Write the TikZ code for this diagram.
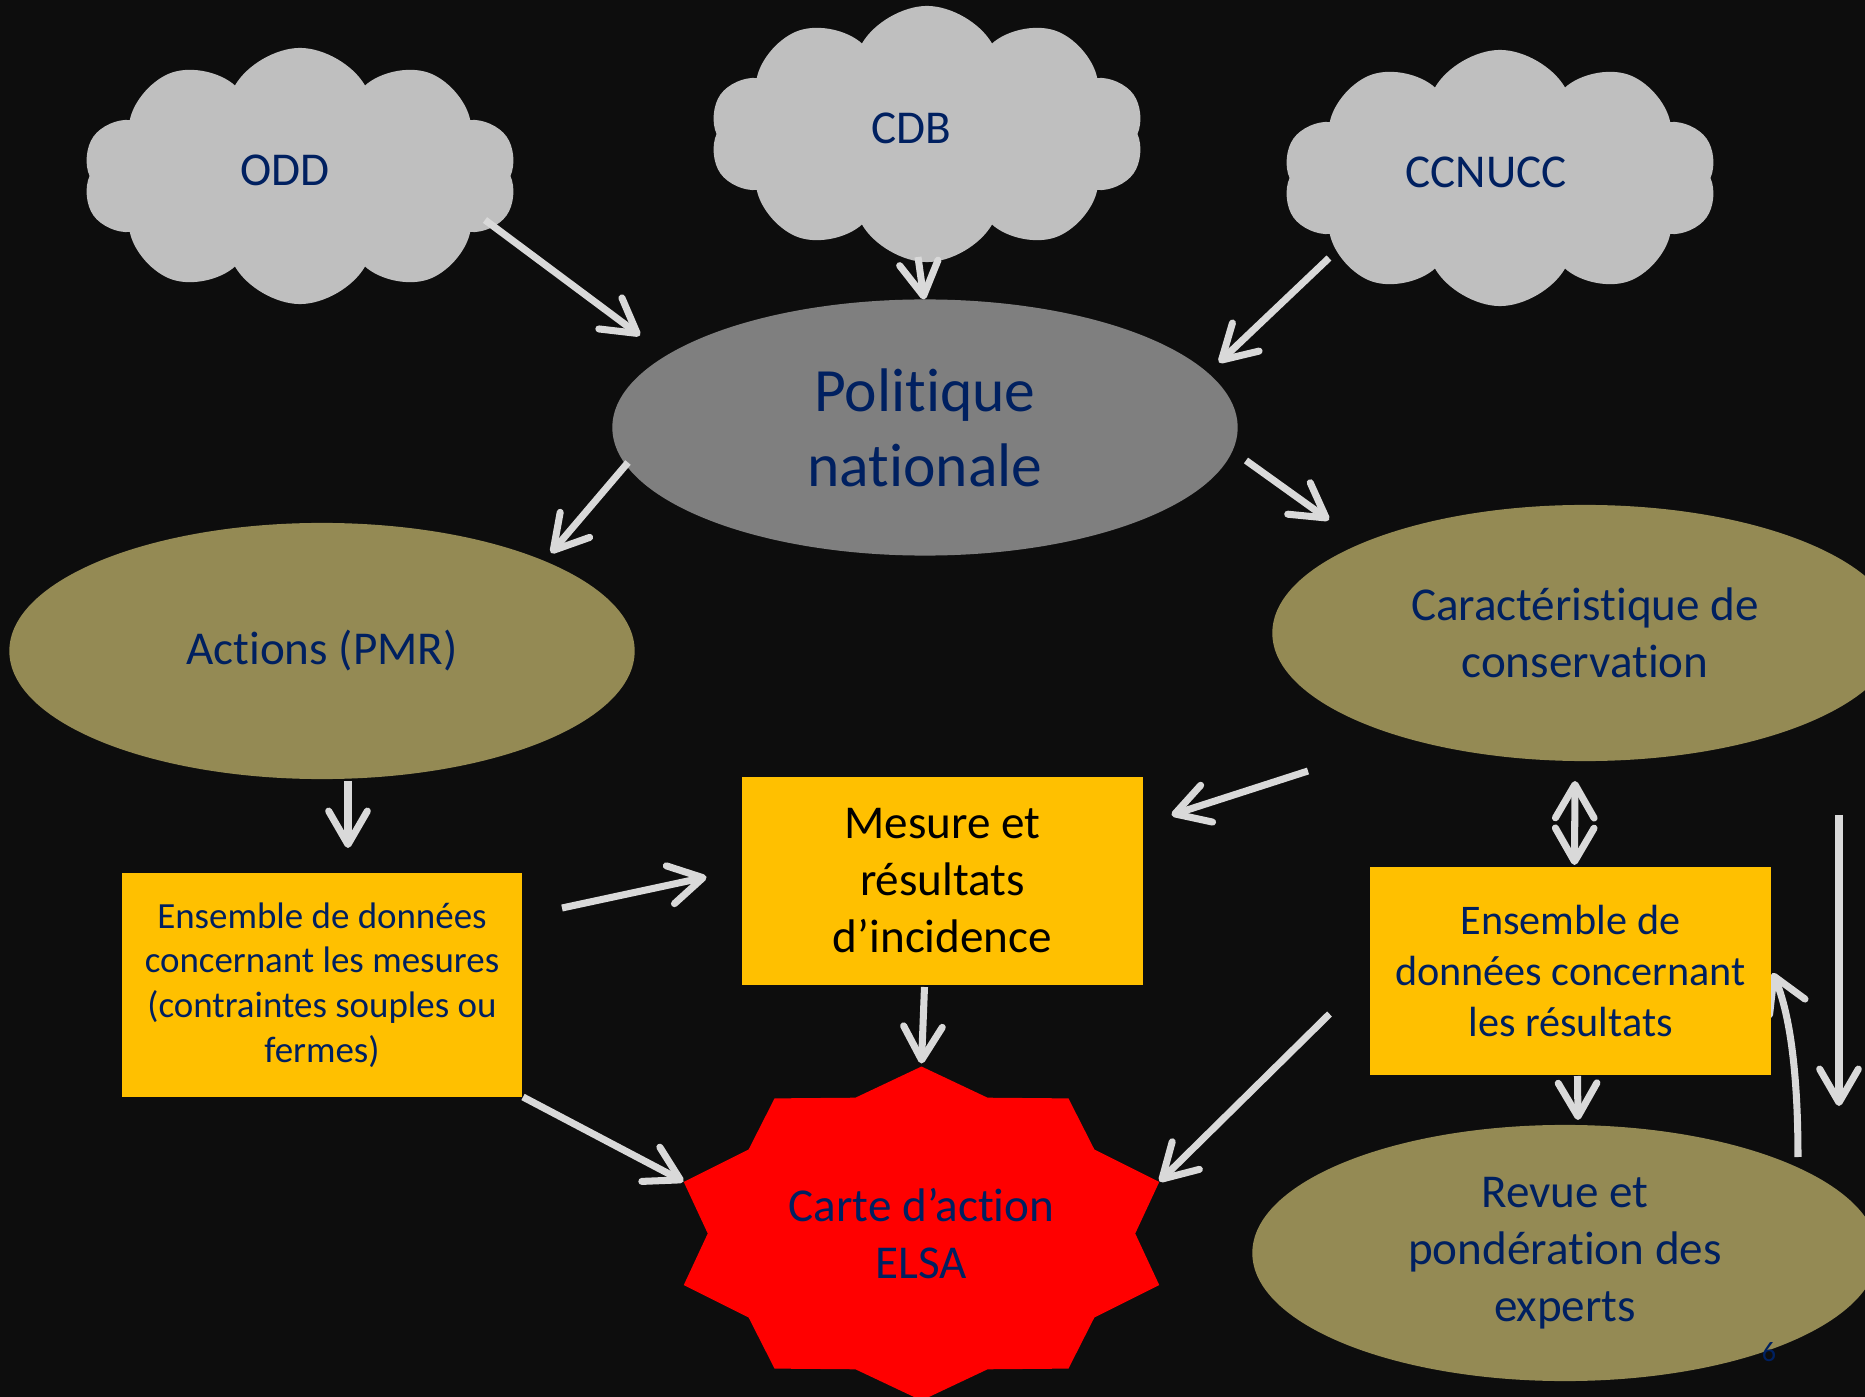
\documentclass[tikz,border=0pt]{standalone}
\usepackage{fontspec}
\setmainfont[RawFeature=-liga,RawFeature=-clig,RawFeature=-dlig,RawFeature=-calt]{Carlito}
\usetikzlibrary{shapes.geometric,shapes.symbols,arrows.meta,backgrounds}
\definecolor{bgblack}{HTML}{0D0D0D}
\definecolor{cloudgray}{HTML}{BFBFBF}
\definecolor{polgray}{HTML}{7F7F7F}
\definecolor{elsaolive}{HTML}{948A54}
\definecolor{boxyellow}{HTML}{FFC000}
\definecolor{elsared}{HTML}{FF0000}
\definecolor{navy}{HTML}{002060}
\definecolor{arrgray}{HTML}{D9D9D9}

\begin{document}
\begin{tikzpicture}[x=0.01cm,y=-0.01cm]
        \tikzstyle{every node}=[text=navy, align=center, inner sep=2pt, font=\fontsize{13.4}{16.2}\selectfont]
        \tikzstyle{cloudnode}=[cloud, cloud puffs=10, cloud puff arc=120, cloud ignores aspect, fill=cloudgray, minimum width=4.34cm, minimum height=2.56cm]
        \tikzstyle{ovalnode}=[ellipse, fill=elsaolive, minimum width=6.25cm, minimum height=2.56cm]
        \tikzstyle{boxnode}=[rectangle, fill=boxyellow, minimum width=4cm, minimum height=2.08cm]
        \tikzstyle{arr}=[draw=arrgray, line width=2pt, ->, >={Straight Barb[round,length=9.5pt,width=11pt]}]
        \useasboundingbox (0,0) rectangle (1865,1397);
        % clouds
        \node[cloudnode] (odd) at (300,176) {};
        \node at ([shift={(-15,-6)}]odd.center) {ODD};
        \node[cloudnode] (cdb) at (927,134) {};
        \node at ([shift={(-16,-6)}]cdb.center) {CDB};
        \node[cloudnode] (ccn) at (1500,178) {};
        \node at ([shift={(-14,-6)}]ccn.center) {CCNUCC};
        % ellipses
        \node[ovalnode, fill=polgray, font=\fontsize{17.5}{21.3}\selectfont] (pol) at (925,427.5) {Politique\\nationale};
        \node[ovalnode] (act) at (322,651) {Actions (PMR)};
        \node[ovalnode] (car) at (1585,633) {Caractéristique de\\conservation};
        \node[ovalnode] (rev) at (1565,1253) {Revue et\\pondération des\\experts};
        % boxes
        \node[boxnode, text=black] (mes) at (942.5,881) {Mesure et\\résultats\\d’incidence};
        \node[boxnode, minimum height=2.24cm, font=\fontsize{10.5}{12.75}\selectfont] (ensm) at (322,985) {Ensemble de données\\concernant les mesures\\(contraintes souples ou\\fermes)};
        \node[boxnode, font=\fontsize{12}{14.5}\selectfont] (ensr) at (1570.5,971) {Ensemble de\\données concernant\\les résultats};
        % star
        \node[ellipse, minimum width=5cm, minimum height=3.34cm] (elsa) at (921.5,1233.5) {};
        \fill[elsared] ([shift={(90:250 and 167)}]elsa.center) \foreach \k [evaluate=\k as \a using 90+18*\k, evaluate=\k as \f using {mod(\k,2)==0 ? 1 : 0.855}] in {1,...,19} {-- ([shift={(\a:{250*\f} and {167*\f})}]elsa.center)} -- cycle;
        \node at (elsa) {Carte d’action\\ELSA};
        \node[font=\fontsize{8}{9.6}\selectfont] (num) at (1769,1352) {6};
        % background and hidden arrow
        \begin{scope}[on background layer]
            \fill[bgblack] (0,0) rectangle (1865,1397);
            \draw[arr] ([shift={(233,-96)}]rev.center) .. controls +(0,-100) and +(14,32) .. ([shift={(202,2)}]ensr.center);
        \end{scope}
        % arrows
        \draw[arr] ([shift={(185,44)}]odd.center) -- ([shift={(-285,-92)}]pol.center);
        \draw[arr] ([shift={(-9,123)}]cdb.center) -- ([shift={(-1,-128)}]pol.center);
        \draw[arr] ([shift={(-171,80)}]ccn.center) -- ([shift={(294,-65)}]pol.center);
        \draw[arr] ([shift={(-297,35)}]pol.center) -- ([shift={(229,-98)}]act.center);
        \draw[arr] ([shift={(321,33)}]pol.center) -- ([shift={(-256,-113)}]car.center);
        \draw[arr] ([shift={(26,130)}]act.center) -- ([shift={(26,-137)}]ensm.center);
        \draw[arr] ([shift={(240,-77)}]ensm.center) -- ([shift={(-236,-4)}]mes.center);
        \draw[arr] ([shift={(-277,138)}]car.center) -- ([shift={(229,-66)}]mes.center);
        \draw[arr,<->] ([shift={(-10,148)}]car.center) -- ([shift={(4,-106)}]ensr.center);
        \draw[arr] ([shift={(-18,106)}]mes.center) -- ([shift={(0,-170)}]elsa.center);
        \draw[arr] ([shift={(201,112)}]ensm.center) -- ([shift={(-238,-52)}]elsa.center);
        \draw[arr] ([shift={(-241,43)}]ensr.center) -- ([shift={(238,-52)}]elsa.center);
        \draw[arr] ([shift={(7,105)}]ensr.center) -- ([shift={(13,-133)}]rev.center);
        \draw[arr] ([shift={(254,182)}]car.center) -- ([shift={(274,-147)}]rev.center);
    \end{tikzpicture}
\end{document}
